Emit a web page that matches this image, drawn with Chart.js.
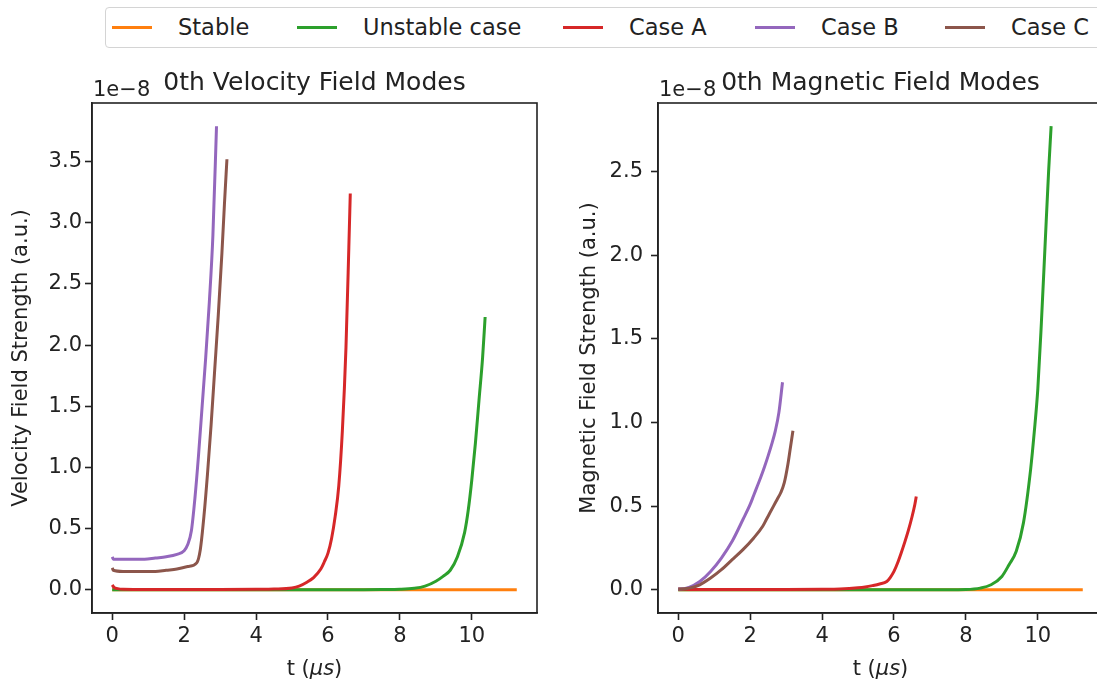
<!DOCTYPE html>
<html>
<head>
<meta charset="utf-8">
<script src="https://cdn.jsdelivr.net/npm/chart.js@4/dist/chart.umd.min.js"></script>
<style>
  html, body { margin: 0; padding: 0; background: #fff; overflow: hidden; }
  body { width: 1097px; height: 682px; position: relative; font-family: 'DejaVu Sans', sans-serif; }
  #legend {
    position: absolute; left: 105px; top: 7px; width: 1040px; height: 41px;
    box-sizing: border-box; border: 1px solid #d4d4d4; border-radius: 4px;
    font-size: 22.5px; color: #222; white-space: nowrap;
  }
  .swatch { position: absolute; top: 18px; width: 40px; height: 3px; }
  .label { position: absolute; top: 6px; line-height: 26px; }
  canvas { position: absolute; top: 0; }
  #vel { left: 0; }
  #mag { left: 560px; }
</style>
</head>
<body>
<div id="legend"></div>
<canvas id="vel" width="550" height="682"></canvas>
<canvas id="mag" width="550" height="682"></canvas>
<script>
// series names and colours (matplotlib tab10)
const seriesNames = ['Stable', 'Unstable case', 'Case A', 'Case B', 'Case C'];
const seriesColors = ['#ff7f0e', '#2ca02c', '#d62728', '#9467bd', '#8c564b'];

// time (µs) and field strengths, in units of 1e-8
const timeStable = [0, 1, 2, 3, 4, 5, 6, 7, 8, 9, 10, 11, 11.25];
const velStable  = [0, 0, 0, 0, 0, 0, 0, 0, 0, 0, 0, 0, 0];
const magStable  = [0, 0, 0, 0, 0, 0, 0, 0, 0, 0, 0, 0, 0];

const timeUnstable = [0, 1, 2, 3, 4, 5, 6, 7, 7.5, 8, 8.4, 8.7, 9.0, 9.2, 9.4, 9.6, 9.8, 9.9, 10.0, 10.1, 10.2, 10.3, 10.37];
const velUnstable  = [0, 0, 0, 0, 0, 0, 0, 0.001, 0.002, 0.004, 0.012, 0.03, 0.07, 0.11, 0.16, 0.27, 0.47, 0.65, 0.9, 1.2, 1.55, 1.9, 2.23];
const magUnstable  = [0, 0, 0, 0, 0, 0, 0, 0.001, 0.001, 0.002, 0.01, 0.03, 0.08, 0.15, 0.23, 0.4, 0.72, 0.94, 1.2, 1.6, 2.05, 2.5, 2.77];

const timeA = [0, 0.05, 0.15, 0.3, 1, 2, 3, 4, 4.5, 5, 5.2, 5.4, 5.6, 5.8, 5.9, 6.0, 6.1, 6.2, 6.3, 6.4, 6.5, 6.58, 6.62];
const velA  = [0.04, 0.02, 0.01, 0.005, 0.003, 0.003, 0.003, 0.004, 0.006, 0.015, 0.03, 0.06, 0.1, 0.17, 0.23, 0.3, 0.42, 0.6, 0.85, 1.3, 1.98, 2.8, 3.24];
const magA  = [0.005, 0.004, 0.003, 0.002, 0.002, 0.002, 0.002, 0.003, 0.005, 0.012, 0.017, 0.025, 0.035, 0.05, 0.075, 0.11, 0.16, 0.22, 0.285, 0.355, 0.435, 0.51, 0.557];

const timeB = [0, 0.03, 0.3, 0.6, 0.9, 1.2, 1.5, 1.8, 2.0, 2.1, 2.2, 2.3, 2.4, 2.5, 2.6, 2.7, 2.8, 2.9];
const velB  = [0.27, 0.25, 0.25, 0.25, 0.25, 0.26, 0.27, 0.29, 0.32, 0.37, 0.48, 0.75, 1.1, 1.5, 1.9, 2.35, 2.9, 3.79];
const magB  = [0.005, 0.005, 0.015, 0.05, 0.11, 0.19, 0.29, 0.42, 0.51, 0.565, 0.62, 0.675, 0.735, 0.8, 0.87, 0.95, 1.06, 1.24];

const timeC = [0, 0.03, 0.3, 0.6, 0.9, 1.2, 1.5, 1.8, 2.1, 2.35, 2.45, 2.55, 2.65, 2.75, 2.85, 2.95, 3.05, 3.12, 3.19];
const velC  = [0.18, 0.16, 0.15, 0.15, 0.15, 0.15, 0.16, 0.17, 0.19, 0.22, 0.33, 0.6, 0.95, 1.35, 1.8, 2.25, 2.75, 3.15, 3.52];
const magC  = [0.005, 0.005, 0.01, 0.03, 0.07, 0.12, 0.18, 0.24, 0.31, 0.38, 0.42, 0.46, 0.5, 0.54, 0.58, 0.64, 0.75, 0.85, 0.95];

const xTicks = [0, 2, 4, 6, 8, 10];
const velTicks = [0, 0.5, 1.0, 1.5, 2.0, 2.5, 3.0, 3.5];
const magTicks = [0, 0.5, 1.0, 1.5, 2.0, 2.5];

const allTimes = [timeStable, timeUnstable, timeA, timeB, timeC];
const velSeries = [velStable, velUnstable, velA, velB, velC];
const magSeries = [magStable, magUnstable, magA, magB, magC];

const FONT = 'DejaVu Sans';
const INK = '#222';

// legend (one row, runs off the right edge like the original)
const legend = document.getElementById('legend');
const swatchLeft = [6, 191, 457, 649, 839];
seriesNames.forEach((name, i) => {
  const sw = document.createElement('span');
  sw.className = 'swatch';
  sw.style.left = swatchLeft[i] + 'px';
  sw.style.background = seriesColors[i];
  const lb = document.createElement('span');
  lb.className = 'label';
  lb.style.left = (swatchLeft[i] + 66) + 'px';
  lb.textContent = name;
  legend.appendChild(sw);
  legend.appendChild(lb);
});

const framePlugin = {
  id: 'mplFrame',
  afterDraw(chart, args, opts) {
    const { ctx, chartArea: a } = chart;
    ctx.save();
    ctx.strokeStyle = INK;
    ctx.lineWidth = 1.6;
    ctx.strokeRect(a.left, a.top, a.right - a.left, a.bottom - a.top);
    ctx.fillStyle = INK;
    ctx.textBaseline = 'alphabetic';
    ctx.font = '25px "' + FONT + '"';
    ctx.textAlign = 'center';
    ctx.fillText(opts.title, (a.left + a.right) / 2, 90);
    ctx.font = '21px "' + FONT + '"';
    ctx.textAlign = 'left';
    ctx.fillText('1e\u22128', a.left + 1, 96);
    // x label: t (μs) with italic μs
    const parts = [['t (', ''], ['\u03bcs', 'italic '], [')', '']];
    let total = 0;
    parts.forEach(p => { ctx.font = p[1] + '21px "' + FONT + '"'; total += ctx.measureText(p[0]).width; });
    let x = (a.left + a.right) / 2 - total / 2;
    parts.forEach(p => {
      ctx.font = p[1] + '21px "' + FONT + '"';
      ctx.fillText(p[0], x, 675);
      x += ctx.measureText(p[0]).width;
    });
    ctx.restore();
  }
};

function makeChart(id, series, yMax, yTicks, title, ylabel, axisWidth, padRight, tickPad, titlePad) {
  const datasets = series.map((vals, i) => ({
    label: seriesNames[i],
    data: allTimes[i].map((t, j) => ({ x: t, y: vals[j] })),
    borderColor: seriesColors[i],
    backgroundColor: seriesColors[i],
    borderWidth: 3,
    pointRadius: 0,
    showLine: true,
    cubicInterpolationMode: 'monotone',
    order: series.length - i
  }));
  const yPad = yMax * 0.05;
  return new Chart(document.getElementById(id), {
    type: 'scatter',
    data: { datasets },
    plugins: [framePlugin],
    options: {
      responsive: false,
      animation: false,
      devicePixelRatio: 1,
      layout: { padding: { top: 103, right: padRight, left: 0, bottom: 0 } },
      plugins: {
        legend: { display: false },
        tooltip: { enabled: false },
        mplFrame: { title }
      },
      scales: {
        x: {
          type: 'linear',
          min: -0.5625,
          max: 11.8125,
          afterFit: s => { s.height = 69; },
          afterBuildTicks: s => { s.ticks = xTicks.map(v => ({ value: v })); },
          ticks: {
            callback: v => String(v),
            font: { family: FONT, size: 21 },
            color: INK,
            padding: 4,
            maxRotation: 0,
            autoSkip: false
          },
          grid: { drawOnChartArea: false, drawTicks: true, tickLength: 7, tickWidth: 1.6, tickColor: INK },
          border: { display: true, color: INK, width: 1.6 }
        },
        y: {
          type: 'linear',
          min: -yPad,
          max: yMax + yPad,
          afterFit: s => { s.width = axisWidth; },
          afterBuildTicks: s => { s.ticks = yTicks.map(v => ({ value: v })); },
          ticks: {
            callback: v => v.toFixed(1),
            font: { family: FONT, size: 21 },
            color: INK,
            padding: tickPad,
            autoSkip: false
          },
          grid: { drawOnChartArea: false, drawTicks: true, tickLength: 7, tickWidth: 1.6, tickColor: INK },
          border: { display: true, color: INK, width: 1.6 },
          title: {
            display: true,
            text: ylabel,
            font: { family: FONT, size: 21 },
            color: INK,
            padding: { top: titlePad, bottom: 0 }
          }
        }
      }
    }
  });
}

makeChart('vel', velSeries, 3.79, velTicks, '0th Velocity Field Modes', 'Velocity Field Strength (a.u.)', 92, 13, 3, 9);
makeChart('mag', magSeries, 2.77, magTicks, '0th Magnetic Field Modes', 'Magnetic Field Strength (a.u.)', 98, 7, 8, 17);
</script>
</body>
</html>
